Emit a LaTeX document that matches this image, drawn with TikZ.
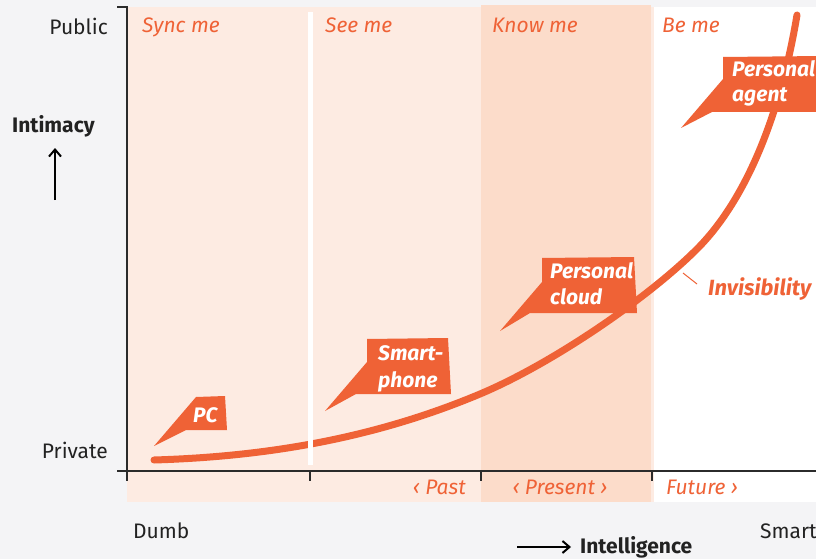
\documentclass[tikz,border=0pt]{standalone}
\usepackage{fontspec}
\setmainfont{Fira Sans}
\usetikzlibrary{arrows.meta}
\definecolor{bg}{HTML}{F4F4F6}
\definecolor{peach}{HTML}{FDEBE2}
\definecolor{peachdark}{HTML}{FCDCCA}
\definecolor{org}{HTML}{EF6236}
\definecolor{axisc}{HTML}{2B2B2B}
\definecolor{labc}{HTML}{222222}
\tikzset{
  lab/.style={font=\fontsize{21}{24}\selectfont, text=labc, inner sep=0pt},
  blab/.style={font=\fontsize{21}{24}\selectfont\bfseries, text=labc, inner sep=0pt},
  coltitle/.style={font=\fontsize{21}{24}\selectfont\itshape, text=org, inner sep=0pt, anchor=base west},
  ctext/.style={font=\fontsize{21}{24}\selectfont\bfseries\itshape, text=white, inner sep=0pt, anchor=base west},
  axisline/.style={draw=axisc, line width=2pt},
  callout/.style={fill=org},
  curve/.style={draw=org, line width=7pt, line cap=round},
  arr/.style={draw=black, line width=2pt, -{Straight Barb[length=7pt,width=12pt]}}
}
\begin{document}
\begin{tikzpicture}[x=1pt,y=-1pt]
\useasboundingbox (0,0) rectangle (816,559);
\fill[bg] (0,0) rectangle (816,559);
% columns
\fill[peach] (127,7) rectangle (481,502);
\fill[peachdark] (481,5) rectangle (651,502);
\fill[peach] (651,7) rectangle (654,502);
\fill[white] (654,7) rectangle (816,502);
% curve
\draw[curve] (154,460) .. controls (262.7,456.7) and (371.3,439.6) .. (480,394)
  .. controls (552.3,363.6) and (648,298) .. (697,249)
  .. controls (746.5,199.5) and (780.6,113.6) .. (797,15);
% white divider
\fill[white] (308,12) rectangle (313,465);
% axes
\draw[axisline] (117,7) -- (127,7) -- (127,481);
\draw[axisline] (117,471) -- (816,471);
\foreach \tx in {310,481,652} \draw[axisline] (\tx,471) -- (\tx,481);
% column titles
\node[coltitle] (t1) at (142,33) {Sync me};
\node[coltitle] (t2) at (325,33) {See me};
\node[coltitle] (t3) at (492,33) {Know me};
\node[coltitle] (t4) at (662,33) {Be me};
% bottom time labels
\node[coltitle, anchor=base east] (past) at (466,494) {‹ Past};
\node[coltitle, anchor=base] (present) at (560,494) {‹ Present ›};
\node[coltitle] (future) at (666,494) {Future ›};
% axis labels
\node[lab, anchor=base east] (public) at (108,35) {Public};
\node[lab, anchor=base east] (private) at (108,458) {Private};
\node[blab, anchor=base west] (intimacy) at (12,132) {Intimacy};
\coordinate (ua1) at (55,200);
\coordinate (ua2) at (55,148);
\draw[arr] (ua1) -- (ua2);
\node[lab, anchor=base west] (dumb) at (133,538) {Dumb};
\node[lab, anchor=base west] (smart) at (760,538) {Smart};
\node[blab, anchor=base west] (intel) at (580,553) {Intelligence};
\coordinate (ra1) at (517,547);
\coordinate (ra2) at (571,547);
\draw[arr] (ra1) -- (ra2);
% callouts
\fill[callout] (196,397) -- (225,396) -- (227,430) -- (186,430) -- (154,446) -- cycle;
\node[ctext] (pc) at (193,422) {PC};
\fill[callout] (367,339) -- (448,338) -- (451,394) -- (356,394) -- (325,411) -- (367,362) -- cycle;
\node[ctext] (sp1) at (378,360) {Smart-};
\node[ctext] (sp2) at (378,387) {phone};
\fill[callout] (542,258) -- (634,257) -- (637,313) -- (530,313) -- (500,331) -- (542,282) -- cycle;
\node[ctext] (pc1) at (550,278) {Personal};
\node[ctext] (pc2) at (550,304) {cloud};
\fill[callout] (723,57) -- (822,56) -- (822,112) -- (712,112) -- (681,128) -- (723,79) -- cycle;
\node[ctext] (pa1) at (732,77) {Personal};
\node[ctext] (pa2) at (732,102) {agent};
% invisibility
\node[ctext, text=org, font=\fontsize{22}{24}\selectfont\bfseries\itshape] (inv) at (708,295) {Invisibility};
\coordinate (invtip) at (683,273);
\draw[draw=org, line width=1pt] (invtip) -- (697,284);
\end{tikzpicture}
\end{document}
